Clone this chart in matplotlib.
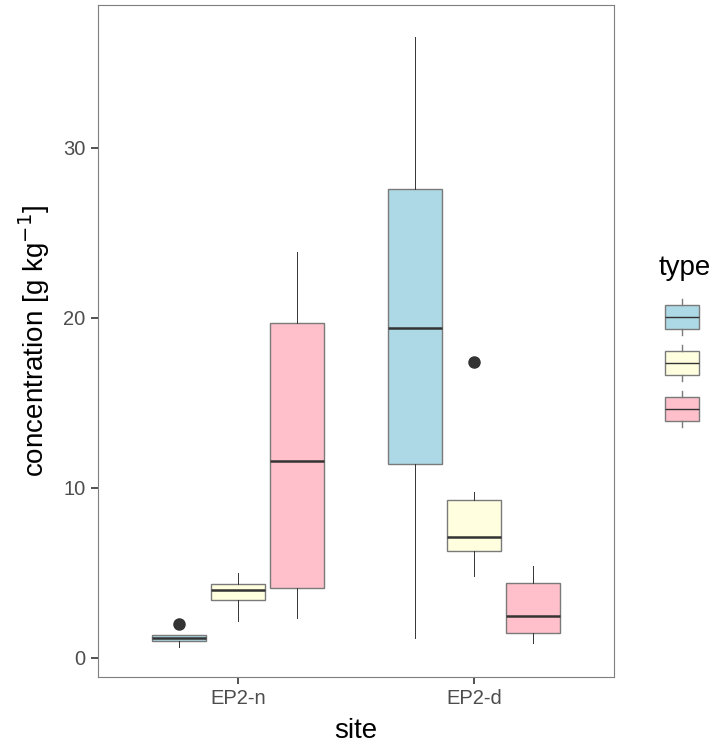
import matplotlib
matplotlib.use("Agg")
import matplotlib.pyplot as plt

plt.rcParams["font.family"] = ["Liberation Sans", "DejaVu Sans"]

sites = ["EP2-n", "EP2-d"]
types = ["a", "b", "c"]
colors = ["#ADD8E6", "#FFFFE0", "#FFC0CB"]

# five-number summaries per site, per type: whislo, q1, med, q3, whishi
stats_n = [
    [0.66, 0.98, 1.18, 1.37, 1.37],
    [2.19, 3.39, 3.98, 4.33, 4.98],
    [2.33, 4.14, 11.6, 19.7, 23.9],
]
stats_d = [
    [1.15, 11.4, 19.4, 27.6, 36.5],
    [4.82, 6.29, 7.1, 9.29, 9.78],
    [0.86, 1.45, 2.47, 4.43, 5.41],
]
outliers_n = [[1.98], [], []]
outliers_d = [[], [17.4], []]

fig = plt.figure(figsize=(7.18, 7.48), dpi=100)
ax = fig.add_axes([98 / 718, 71 / 748, 516 / 718, 672 / 748])

edge = "#7a7a7a"
dark = "#333333"
offsets = [-0.25, 0, 0.25]

for i, (st, outl) in enumerate([(stats_n, outliers_n), (stats_d, outliers_d)]):
    for j in range(3):
        lo, q1, med, q3, hi = st[j]
        d = dict(whislo=lo, q1=q1, med=med, q3=q3, whishi=hi, fliers=outl[j])
        ax.bxp([d], positions=[i + 1 + offsets[j]], widths=0.225,
               patch_artist=True, showcaps=False,
               boxprops=dict(facecolor=colors[j], edgecolor=edge, linewidth=1.0),
               medianprops=dict(color=dark, linewidth=1.8),
               whiskerprops=dict(color=dark, linewidth=0.7),
               flierprops=dict(marker="o", markerfacecolor=dark, markeredgecolor=dark,
                               markersize=8))

ax.set_xlim(0.407, 2.593)
ax.set_ylim(-1.12, 38.4)
ax.set_xticks([1, 2])
ax.set_xticklabels(sites)
ax.set_yticks([0, 10, 20, 30])
ax.tick_params(labelcolor="#4D4D4D", labelsize=14.5, length=5, width=1.2,
               color="#333333", pad=4)
for s in ax.spines.values():
    s.set_color("#7f7f7f")
    s.set_linewidth(0.8)
ax.set_xlabel("site", fontsize=20, labelpad=7)
ax.set_ylabel("concentration [g kg$^{-1}$]", fontsize=20, labelpad=8)

# legend drawn as small boxes, in pixel coordinates
fig.text(659 / 718, 1 - 268 / 748, "type", fontsize=20, va="center", ha="left")
lax = fig.add_axes([660 / 718, 1 - 440 / 748, 44 / 718, 150 / 748])
lax.axis("off")
key_y = [317, 363, 409]
for j in range(3):
    y = key_y[j]
    d = dict(whislo=y - 18, q1=y - 12, med=y, q3=y + 12, whishi=y + 18, fliers=[])
    lax.bxp([d], positions=[682], widths=34, patch_artist=True, showcaps=False,
            boxprops=dict(facecolor=colors[j], edgecolor=edge, linewidth=1.0),
            medianprops=dict(color=dark, linewidth=1.0),
            whiskerprops=dict(color=edge, linewidth=1.0))
lax.set_xlim(660, 704)
lax.set_ylim(440, 290)

fig.savefig("out.png", dpi=100)
